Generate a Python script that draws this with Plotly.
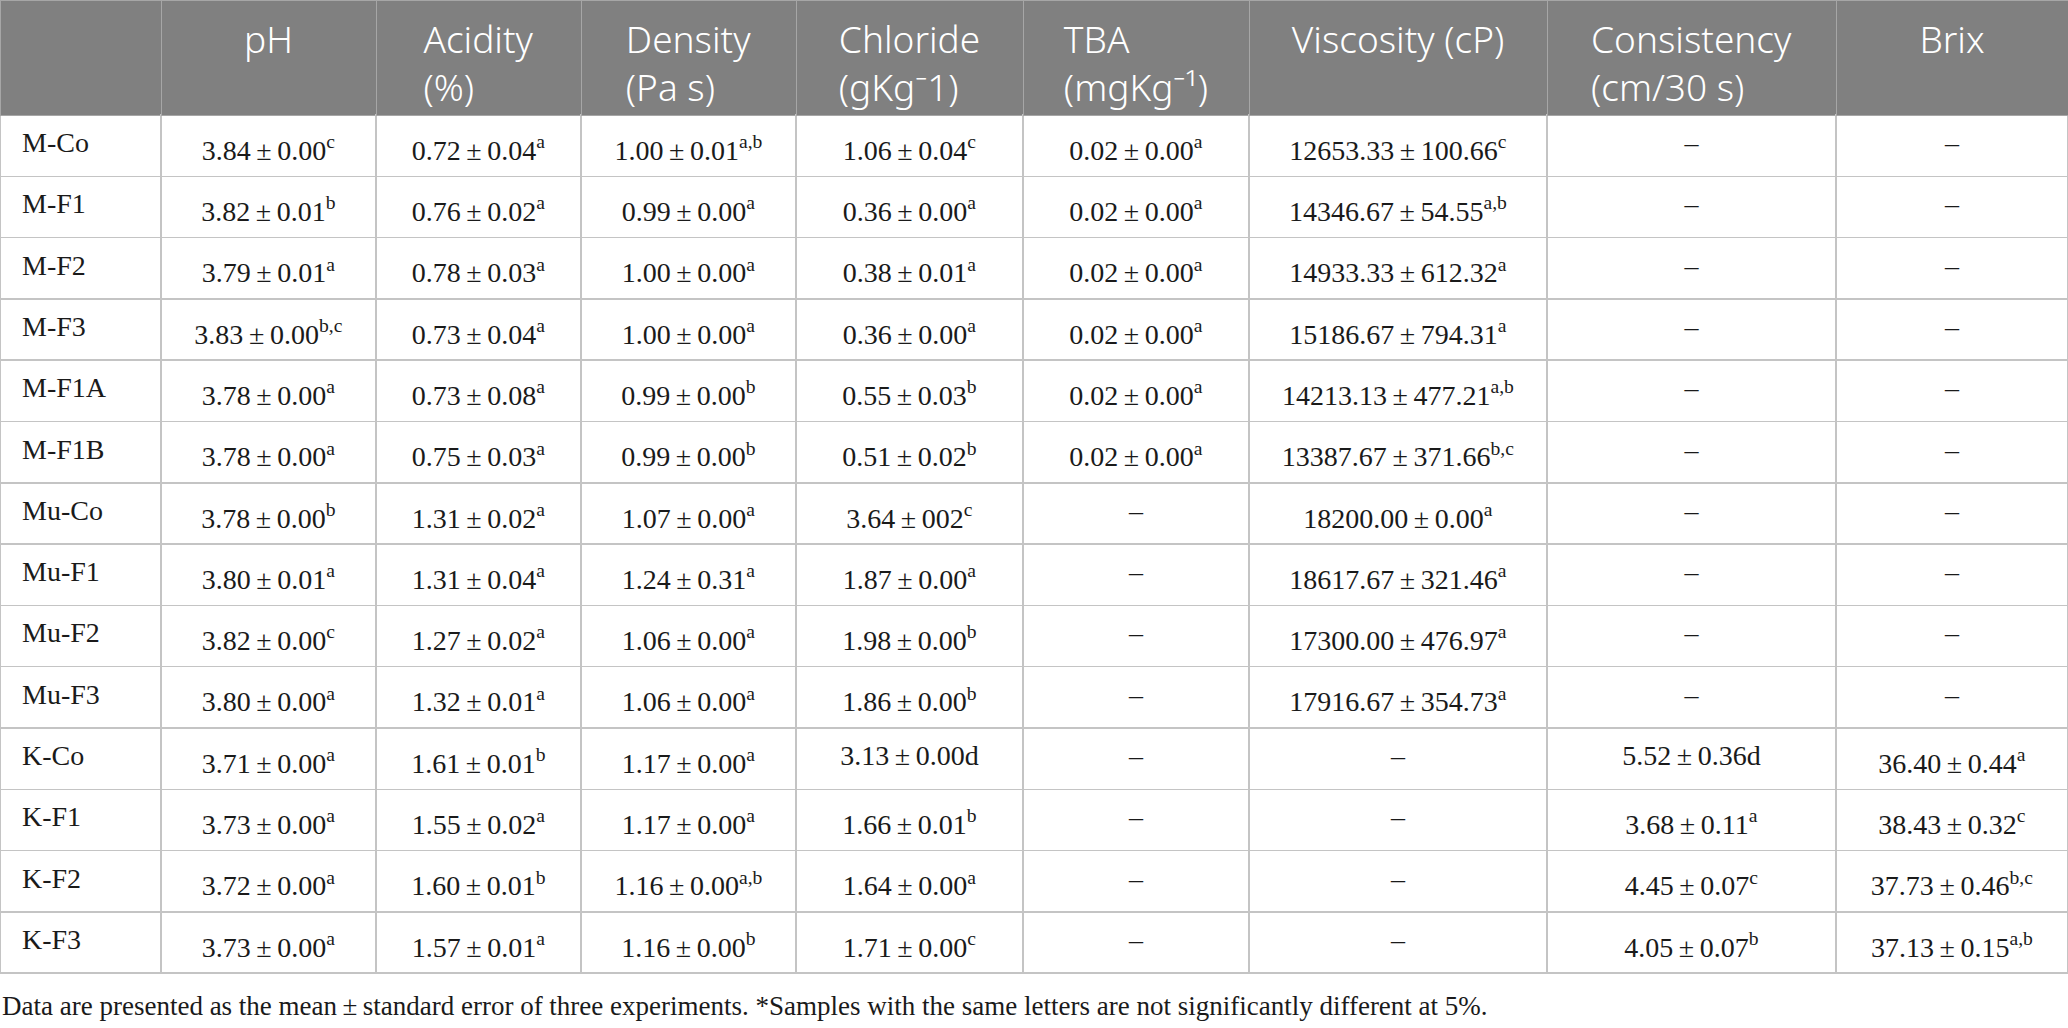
import plotly.graph_objects as go
import re

# sample names (first column)
samples = ["M-Co", "M-F1", "M-F2", "M-F3", "M-F1A", "M-F1B", "Mu-Co", "Mu-F1",
           "Mu-F2", "Mu-F3", "K-Co", "K-F1", "K-F2", "K-F3"]

headers = ["", "pH", "Acidity<br>(%)", "Density<br>(Pa s)", "Chloride<br>(gKg\u207b1)",
           "TBA<br>(mgKg\u207b\u00b9)", "Viscosity (cP)", "Consistency<br>(cm/30 s)", "Brix"]

# values as "mean ± se^letters" ; "–" means not measured
ph = ["3.84 ± 0.00^c", "3.82 ± 0.01^b", "3.79 ± 0.01^a", "3.83 ± 0.00^b,c", "3.78 ± 0.00^a",
      "3.78 ± 0.00^a", "3.78 ± 0.00^b", "3.80 ± 0.01^a", "3.82 ± 0.00^c", "3.80 ± 0.00^a",
      "3.71 ± 0.00^a", "3.73 ± 0.00^a", "3.72 ± 0.00^a", "3.73 ± 0.00^a"]
acidity = ["0.72 ± 0.04^a", "0.76 ± 0.02^a", "0.78 ± 0.03^a", "0.73 ± 0.04^a", "0.73 ± 0.08^a",
           "0.75 ± 0.03^a", "1.31 ± 0.02^a", "1.31 ± 0.04^a", "1.27 ± 0.02^a", "1.32 ± 0.01^a",
           "1.61 ± 0.01^b", "1.55 ± 0.02^a", "1.60 ± 0.01^b", "1.57 ± 0.01^a"]
density = ["1.00 ± 0.01^a,b", "0.99 ± 0.00^a", "1.00 ± 0.00^a", "1.00 ± 0.00^a", "0.99 ± 0.00^b",
           "0.99 ± 0.00^b", "1.07 ± 0.00^a", "1.24 ± 0.31^a", "1.06 ± 0.00^a", "1.06 ± 0.00^a",
           "1.17 ± 0.00^a", "1.17 ± 0.00^a", "1.16 ± 0.00^a,b", "1.16 ± 0.00^b"]
chloride = ["1.06 ± 0.04^c", "0.36 ± 0.00^a", "0.38 ± 0.01^a", "0.36 ± 0.00^a", "0.55 ± 0.03^b",
            "0.51 ± 0.02^b", "3.64 ± 002^c", "1.87 ± 0.00^a", "1.98 ± 0.00^b", "1.86 ± 0.00^b",
            "3.13 ± 0.00d", "1.66 ± 0.01^b", "1.64 ± 0.00^a", "1.71 ± 0.00^c"]
tba = ["0.02 ± 0.00^a"] * 6 + ["–"] * 8
viscosity = ["12653.33 ± 100.66^c", "14346.67 ± 54.55^a,b", "14933.33 ± 612.32^a",
             "15186.67 ± 794.31^a", "14213.13 ± 477.21^a,b", "13387.67 ± 371.66^b,c",
             "18200.00 ± 0.00^a", "18617.67 ± 321.46^a", "17300.00 ± 476.97^a",
             "17916.67 ± 354.73^a", "–", "–", "–", "–"]
consistency = ["–"] * 10 + ["5.52 ± 0.36d", "3.68 ± 0.11^a", "4.45 ± 0.07^c", "4.05 ± 0.07^b"]
brix = ["–"] * 10 + ["36.40 ± 0.44^a", "38.43 ± 0.32^c", "37.73 ± 0.46^b,c", "37.13 ± 0.15^a,b"]

footnote = ("Data are presented as the mean\u2009±\u2009standard error of three experiments. "
            "*Samples with the same letters are not significantly different at 5%.")


def fmt(s):
    s = s.replace(" ± ", "\u2009±\u2009")
    return re.sub(r"\^([a-z,]+)", r"<sup>\1</sup>", s)


cols = [[fmt("  " + s) for s in samples]]
for c in [ph, acidity, density, chloride, tba, viscosity, consistency, brix]:
    cols.append([fmt(v) for v in c])

# single line headers get an empty 2nd line so all first lines sit level
head = [h if "<br>" in h else h + "<br> " for h in headers]

W, H = 2068, 1028
widths = [161, 215, 205, 215, 227, 226, 298, 289, 232]
header_h = 115
row_h = 61.3
# plotly top-aligns cell text, so the text layer is laid a few px lower
head_drop = 5
body_drop = 8
clear = "rgba(0,0,0,0)"
blank = [[""] * len(samples) for _ in widths]

# grid: fills and lines only
grid = go.Table(
    columnwidth=widths,
    header=dict(
        values=[""] * len(widths),
        fill_color="#808080",
        line=dict(color="#a6a6a6", width=1),
        height=header_h,
    ),
    cells=dict(
        values=blank,
        fill_color="white",
        line=dict(color="#c4c4c4", width=1.5),
        height=row_h,
    ),
    domain=dict(x=[0, 1], y=[0, 1]),
)

# all the text, laid over the grid
text = go.Table(
    columnwidth=widths,
    header=dict(
        values=head,
        fill_color=clear,
        line=dict(color=clear, width=0),
        font=dict(family="Noto Sans", size=37, color="white", weight=300),
        align="center",
        height=header_h + body_drop - head_drop,
    ),
    cells=dict(
        values=cols,
        fill_color=clear,
        line=dict(color=clear, width=0),
        font=dict(family="Liberation Serif", size=28, color="#1a1a1a"),
        align=["left"] + ["center"] * 8,
        height=row_h,
    ),
    domain=dict(x=[0, 1], y=[0, 1 - head_drop / H]),
)

fig = go.Figure([grid, text])

fig.add_annotation(
    text=footnote, x=0, y=1 - 1006 / H, xref="paper", yref="paper",
    xanchor="left", yanchor="middle", showarrow=False,
    font=dict(family="Liberation Serif", size=27, color="#1a1a1a"),
)

fig.update_layout(
    width=W, height=H,
    margin=dict(l=0, r=0, t=0, b=0),
    paper_bgcolor="white",
)

# drop the page's default body margin so the figure fills the window
fig.write_html("out.html", config={"displayModeBar": False},
               post_script="document.body.style.margin = '0';")
